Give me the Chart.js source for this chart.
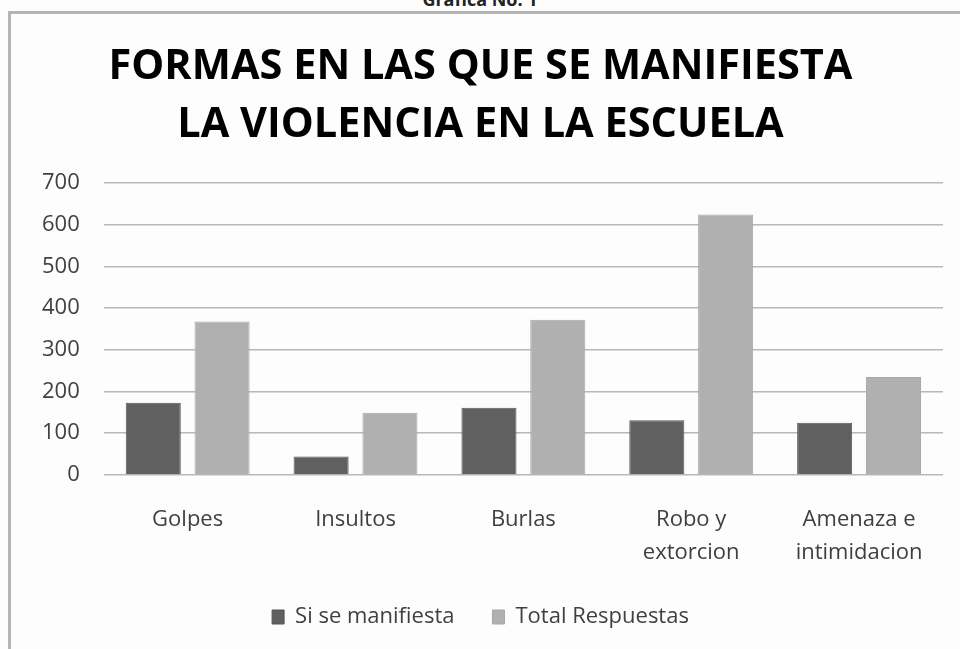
<!DOCTYPE html>
<html lang="es">
<head>
    <meta charset="UTF-8">
    <style>
        html, body {
            margin: 0;
            padding: 0;
            overflow: hidden;
            background-color: #fdfdfd;
        }

        .caption {
            position: absolute;
            top: -13px;
            left: 0;
            width: 960px;
            text-align: center;
            font: bold 18px "Open Sans", sans-serif;
            color: #222;
        }

        .frame {
            position: absolute;
            left: 8px;
            top: 11px;
            width: 1000px;
            height: 700px;
            border: 3px solid #b5b5b5;
            box-sizing: border-box;
        }

        .chartDiv {
            position: absolute;
            left: 0;
            top: 0;
            width: 960px;
            height: 649px;
        }
    </style>
    <title>Grafica No. 1</title>
</head>

<body>
    <div class="caption">Grafica No. 1</div>
    <div class="frame"></div>
    <div class="chartDiv">
        <canvas id="myChart"></canvas>
    </div>
    <script src="https://cdn.jsdelivr.net/npm/chart.js"></script>

    <script>
        const categories = ['Golpes', 'Insultos', 'Burlas', ['Robo y', 'extorcion'], ['Amenaza e', 'intimidacion']];
        const siSeManifiesta = [173, 44, 161, 131, 125];
        const totalRespuestas = [368, 149, 372, 625, 235];
        const yTicks = [0, 100, 200, 300, 400, 500, 600, 700];

        const ctx = document.getElementById('myChart');

        new Chart(ctx, {
            type: 'bar',
            data: {
                labels: categories,
                datasets: [
                    {
                        label: 'Si se manifiesta',
                        data: siSeManifiesta,
                        backgroundColor: '#606060',
                        borderColor: '#555555',
                        borderWidth: 1,
                        categoryPercentage: 0.82,
                        barPercentage: 0.8
                    },
                    {
                        label: 'Total Respuestas',
                        data: totalRespuestas,
                        backgroundColor: '#b0b0b0',
                        borderColor: '#a8a8a8',
                        borderWidth: 1,
                        categoryPercentage: 0.82,
                        barPercentage: 0.8
                    }
                ]
            },
            options: {
                responsive: true,
                maintainAspectRatio: false,
                animation: false,
                layout: {
                    padding: { left: 18, right: 17, top: 38, bottom: 11 }
                },
                plugins: {
                    tooltip: { enabled: false },
                    title: {
                        display: true,
                        text: ['FORMAS EN LAS QUE SE MANIFIESTA', 'LA VIOLENCIA EN LA ESCUELA'],
                        color: '#000',
                        font: { family: 'Open Sans', weight: 'bold', size: 41.5, lineHeight: 1.4 },
                        padding: { top: 0, bottom: 29 }
                    },
                    legend: {
                        position: 'bottom',
                        labels: {
                            color: '#404040',
                            font: { family: 'Open Sans', size: 22 },
                            boxWidth: 12,
                            boxHeight: 14,
                            padding: 38
                        }
                    }
                },
                scales: {
                    y: {
                        min: 0,
                        max: 700,
                        afterBuildTicks: (axis) => {
                            axis.ticks = yTicks.map(v => ({ value: v }));
                        },
                        border: { display: false },
                        grid: {
                            color: '#b8b8b8',
                            lineWidth: 1.5,
                            drawTicks: false
                        },
                        ticks: {
                            color: '#404040',
                            padding: 24,
                            font: { family: 'Open Sans', size: 22 }
                        }
                    },
                    x: {
                        // pull the plot down closer to the legend
                        afterFit: (axis) => {
                            axis.height -= 22;
                        },
                        border: { display: false },
                        grid: { display: false },
                        ticks: {
                            color: '#404040',
                            padding: 21,
                            maxRotation: 0,
                            font: { family: 'Open Sans', size: 22, lineHeight: 1.48 }
                        }
                    }
                }
            }
        });
    </script>

</body>

</html>
